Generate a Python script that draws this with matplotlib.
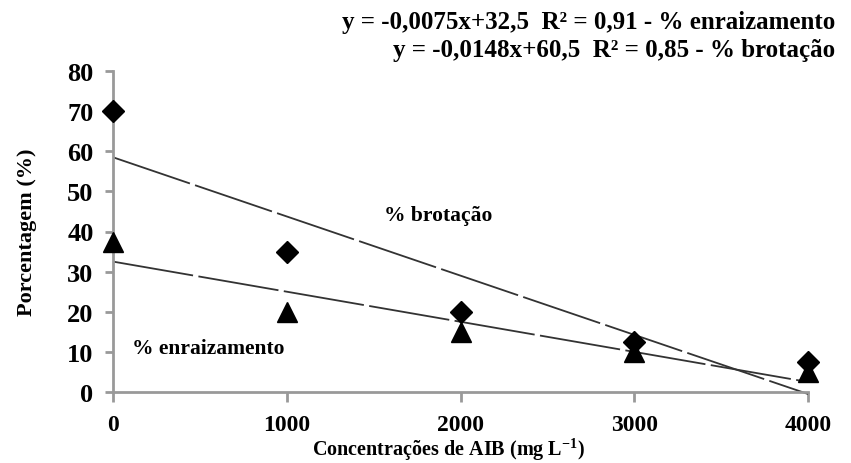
import numpy as np
import matplotlib
matplotlib.use("Agg")
import matplotlib.pyplot as plt

# Concentrations of AIB (mg/L) and measured percentages
conc = [0, 1000, 2000, 3000, 4000]
brotacao = [70, 35, 20, 12.5, 7.5]
enraizamento = [37.5, 20, 15, 10, 5]

eq_enraiz = "y = -0,0075x+32,5  R² = 0,91 - % enraizamento"
eq_brot = "y = -0,0148x+60,5  R² = 0,85 - % brotação"

plt.rcParams["font.family"] = ["Liberation Serif", "DejaVu Serif"]
plt.rcParams["font.weight"] = "bold"
plt.rcParams["mathtext.fontset"] = "custom"
plt.rcParams["mathtext.rm"] = "Liberation Serif:bold"
plt.rcParams["mathtext.bf"] = "Liberation Serif:bold"

fig = plt.figure(figsize=(8.51, 4.64), dpi=100)
ax = fig.add_axes([113 / 851, 1 - 393 / 464, 695 / 851, 321 / 464])

ax.plot(conc, brotacao, linestyle="none", marker="D", markersize=11,
        color="black", clip_on=False, zorder=4)
ax.plot(conc, enraizamento, linestyle="none", marker="^", markersize=14,
        color="black", clip_on=False, zorder=4)

# linear trend lines
xs = np.array([0, 4000])
for ys in (brotacao, enraizamento):
    b, a = np.polyfit(conc, ys, 1)
    ax.plot(xs, a + b * xs, color="#333333", linewidth=1.3, dashes=(45, 3),
            clip_on=False)

ax.text(1560, 44, "% brotação", fontsize=15.5, fontweight="bold", va="center")
ax.text(110, 11, "% enraizamento", fontsize=15.5, fontweight="bold", va="center")

ax.set_xlim(0, 4000)
ax.set_ylim(0, 80)
ax.set_xticks(conc)
ax.set_yticks(range(0, 81, 10))
ax.tick_params(axis="x", direction="out", length=7, width=2, color="#999999",
               pad=9, labelsize=17)
ax.tick_params(axis="y", direction="out", length=6, width=2, color="#999999",
               pad=8, labelsize=19)
for lbl in ax.get_xticklabels() + ax.get_yticklabels():
    lbl.set_fontweight("bold")

for side in ("top", "right"):
    ax.spines[side].set_visible(False)
for side in ("left", "bottom"):
    ax.spines[side].set_color("#999999")
    ax.spines[side].set_linewidth(2)

ax.set_ylabel("Porcentagem (%)", fontsize=16, fontweight="bold", labelpad=22)
fig.text(448 / 851, 0.5 / 464, "Concentrações de AIB (mg L$^{-1}$)", fontsize=14.5,
         fontweight="bold", ha="center", va="bottom")

fig.text(835 / 851, 1 - 22 / 464, eq_enraiz, fontsize=18, fontweight="bold",
         ha="right", va="center")
fig.text(835 / 851, 1 - 50 / 464, eq_brot, fontsize=18, fontweight="bold",
         ha="right", va="center")

fig.savefig("out.png", dpi=100)
